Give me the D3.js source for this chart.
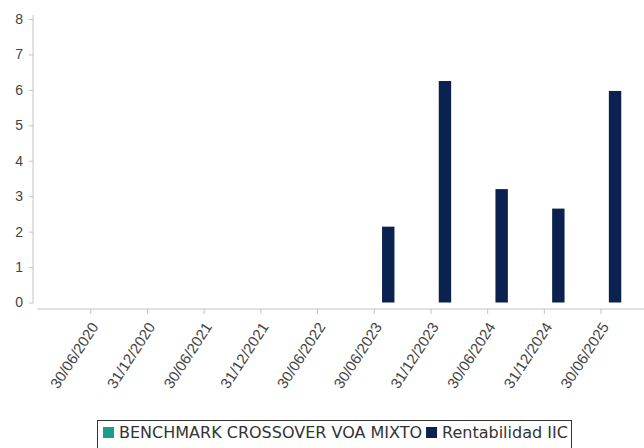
<!DOCTYPE html>
<html>
<head>
<meta charset="utf-8">
<script src="https://cdn.jsdelivr.net/npm/d3@7"></script>
<style>
  body { margin: 0; background: #fff; }
  svg { font-family: "DejaVu Sans", sans-serif; }
</style>
</head>
<body>
<script>
// columnas agrupadas: benchmark (sin datos) y rentabilidad
var fechas = ["30/06/2020", "31/12/2020", "30/06/2021", "31/12/2021", "30/06/2022",
              "30/06/2023", "31/12/2023", "30/06/2024", "31/12/2024", "30/06/2025"];
var series = ["BENCHMARK CROSSOVER VOA MIXTO", "Rentabilidad IIC"];
var benchmark = [null, null, null, null, null, null, null, null, null, null];
var rentabilidad = [null, null, null, null, null, 2.14, 6.25, 3.20, 2.65, 5.97];
var yTicks = [0, 1, 2, 3, 4, 5, 6, 7, 8];
var colores = ["#1b9c8c", "#0b2250"];

var width = 644, height = 448;

var svg = d3.select("body").append("svg")
    .attr("width", width)
    .attr("height", height);

var x = d3.scaleBand()
    .domain(fechas)
    .range([62.4, 629.4]);

var xSerie = d3.scaleBand()
    .domain(series)
    .range([0, x.bandwidth()])
    .paddingInner(0.557)
    .paddingOuter(0.291);

var y = d3.scaleLinear()
    .domain([0, 8])
    .range([302.5, 19]);

// eje y
var gy = svg.append("g")
    .attr("transform", "translate(33,0)")
    .call(d3.axisLeft(y).tickValues(yTicks).tickSize(4).tickPadding(6));
gy.select(".domain").attr("stroke", "#c4c4c4").attr("d", "M0,15V303");
gy.selectAll(".tick line").attr("stroke", "#c4c4c4");
gy.selectAll(".tick text").attr("fill", "#444").style("font-size", "14px");

// eje x
var gx = svg.append("g")
    .attr("transform", "translate(0,309)")
    .call(d3.axisBottom(x).tickSize(5));
gx.select(".domain").attr("stroke", "#c4c4c4").attr("d", "M37,0H644");
gx.selectAll(".tick line").attr("stroke", "#c4c4c4");
gx.selectAll(".tick text")
    .attr("fill", "#444")
    .style("font-size", "15px")
    .attr("text-anchor", "end")
    .attr("x", 0).attr("y", 0)
    .attr("dy", "0.35em")
    .attr("transform", "translate(4,15) rotate(-57)");

// barras
var datos = [];
fechas.forEach(function (f, i) {
  datos.push({ fecha: f, serie: series[0], valor: benchmark[i] });
  datos.push({ fecha: f, serie: series[1], valor: rentabilidad[i] });
});

svg.append("g").selectAll("rect")
    .data(datos.filter(function (d) { return d.valor != null; }))
    .enter().append("rect")
    .attr("x", function (d) { return x(d.fecha) + xSerie(d.serie); })
    .attr("width", xSerie.bandwidth())
    .attr("y", function (d) { return y(d.valor); })
    .attr("height", function (d) { return y(0) - y(d.valor); })
    .attr("fill", function (d) { return colores[series.indexOf(d.serie)]; });

// leyenda
var leyenda = svg.append("g");
leyenda.append("rect")
    .attr("x", 97.5).attr("y", 420.5)
    .attr("width", 474).attr("height", 40)
    .attr("fill", "#fff").attr("stroke", "#333");

var posX = 103;
series.forEach(function (s, i) {
  leyenda.append("rect")
      .attr("x", posX).attr("y", 427)
      .attr("width", 11).attr("height", 11)
      .attr("fill", colores[i]);
  var t = leyenda.append("text")
      .attr("x", posX + 16).attr("y", 438)
      .attr("fill", "#333")
      .style("font-size", "16px")
      .text(s);
  posX += 16 + t.node().getComputedTextLength() + 4;
});
</script>
</body>
</html>
